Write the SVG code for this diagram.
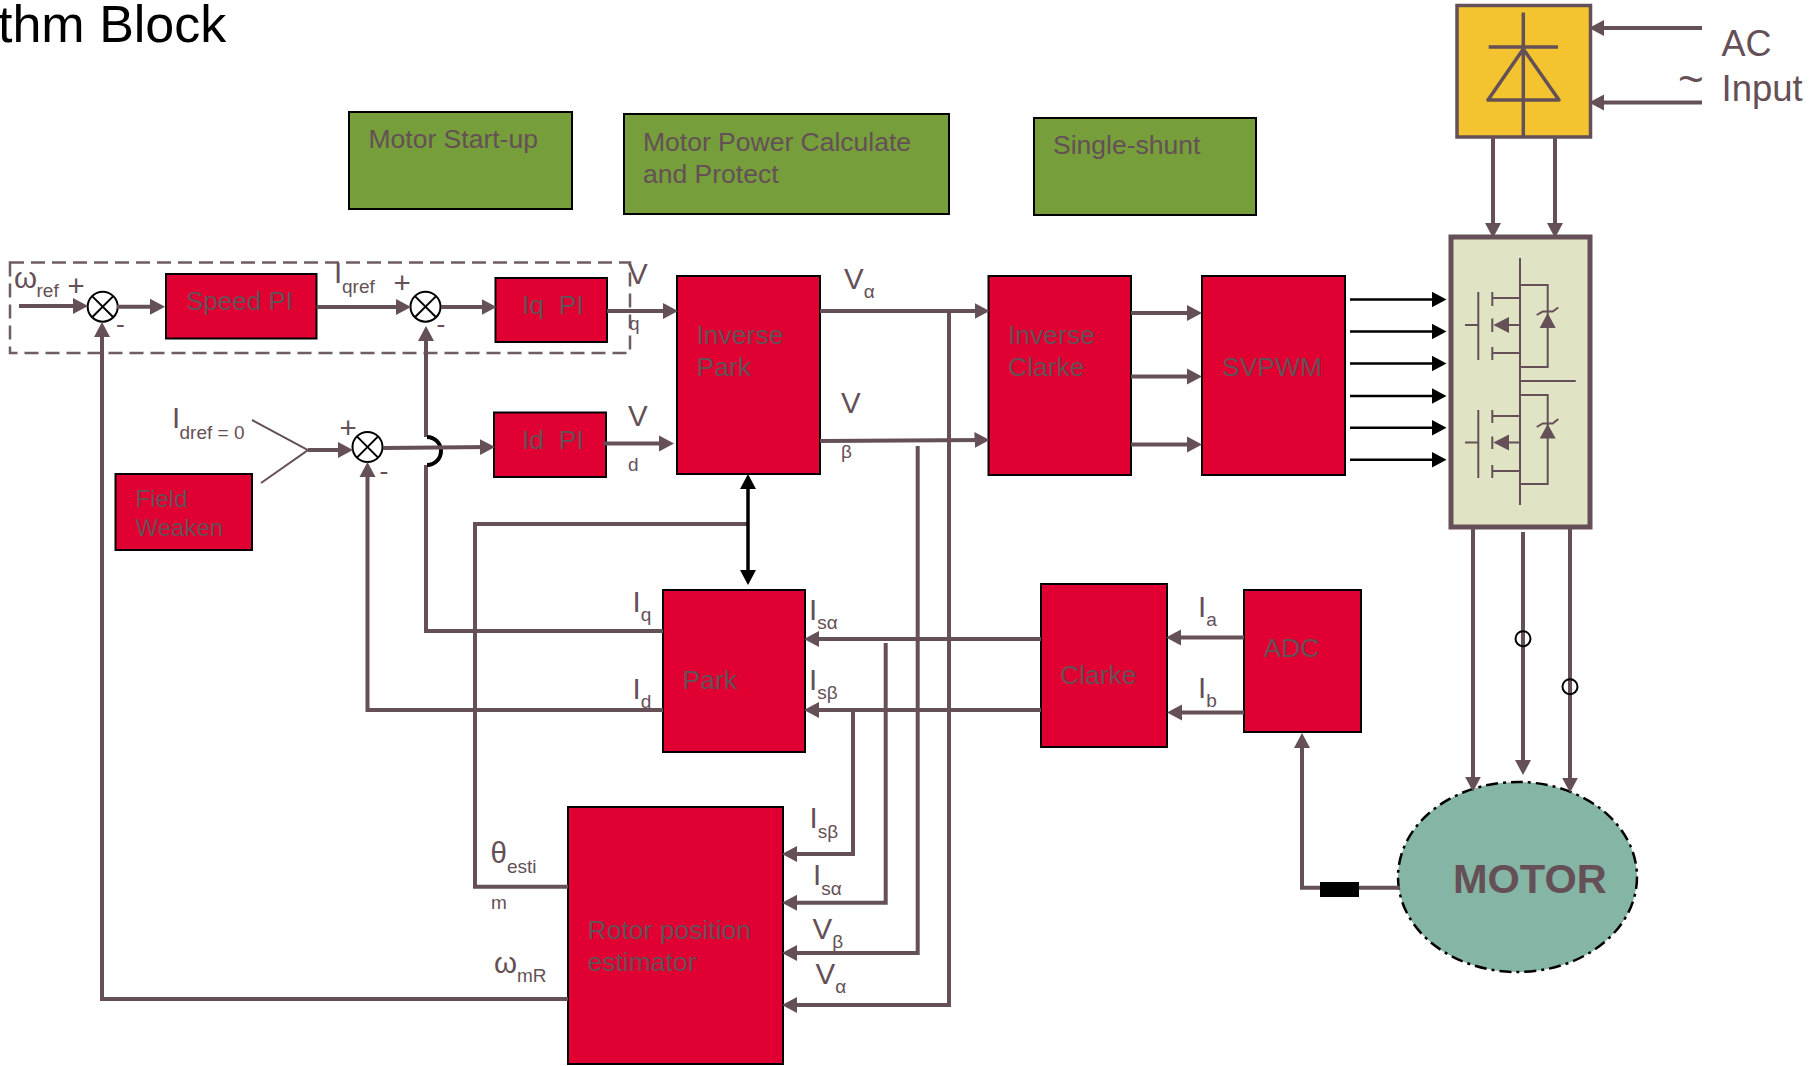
<svg xmlns="http://www.w3.org/2000/svg" width="1811" height="1066" viewBox="0 0 1811 1066">
<style>
text{font-family:"Liberation Sans",Arial,sans-serif;fill:#645056;font-size:26.5px;white-space:pre}
.sub{font-size:19px}
.lab{font-size:29.5px}
.red{fill:#e00032;stroke:#000;stroke-width:2}
.green{fill:#769e3a;stroke:#000;stroke-width:2}
.c{fill:none;stroke:#645056;stroke-width:4}
.a{marker-end:url(#ah)}
.k{fill:none;stroke:#000;stroke-width:2.5;marker-end:url(#bh)}
.t{fill:none;stroke:#645056;stroke-width:2}
.sum{fill:#fff;stroke:#000;stroke-width:2}
.sym{fill:none;stroke:#645056;stroke-width:2}
.symf{fill:#645056;stroke:none}
</style>
<defs>
<marker id="ah" markerUnits="userSpaceOnUse" markerWidth="17" markerHeight="17" refX="10" refY="8.500" orient="auto-start-reverse"><path d="M0 .5L15 8.500L0 16.500z" fill="#645056"/></marker>
<marker id="bh" markerUnits="userSpaceOnUse" markerWidth="17" markerHeight="17" refX="10" refY="8.500" orient="auto-start-reverse"><path d="M0 .5L15 8.500L0 16.500z" fill="#000"/></marker>
<g id="x"><line x1="-10.600" y1="-10.600" x2="10.600" y2="10.600" stroke="#000" stroke-width="2"/><line x1="-10.600" y1="10.600" x2="10.600" y2="-10.600" stroke="#000" stroke-width="2"/></g>
</defs>
<text id="title" x="-2" y="42" style="fill:#000;font-size:52px">thm Block</text>
<rect id="pi-group" x="10" y="262.500" width="620" height="90.500" fill="none" stroke="#6e5d63" stroke-width="2.500" stroke-dasharray="14 7"/>

<g id="motor-startup"><rect class="green" x="349" y="112" width="223" height="97"/><text x="368.500" y="148">Motor Start-up</text></g>
<g id="motor-power"><rect class="green" x="624" y="114" width="325" height="100"/><text x="643" y="151">Motor Power Calculate</text><text x="643" y="183">and Protect</text></g>
<g id="single-shunt"><rect class="green" x="1034" y="118" width="222" height="97"/><text x="1053" y="153.500">Single-shunt</text></g>

<g id="speed-pi"><rect class="red" x="166" y="274" width="150.500" height="64.500"/><text x="186" y="310" style="font-size:26px">Speed PI</text></g>
<g id="iq-pi"><rect class="red" x="495.500" y="278" width="111.500" height="64"/><text x="522" y="314">Iq  PI</text></g>
<g id="id-pi"><rect class="red" x="494" y="412.500" width="112" height="64.500"/><text x="522" y="449">Id  PI</text></g>
<g id="field-weaken"><rect class="red" x="115.500" y="474" width="136.500" height="76"/><text x="135.500" y="507" style="font-size:24px">Field</text><text x="135.500" y="535.500" style="font-size:24px">Weaken</text></g>
<g id="inverse-park"><rect class="red" x="677" y="276" width="143" height="198"/><text x="696.500" y="344">Inverse</text><text x="696.500" y="375.500">Park</text></g>
<g id="inverse-clarke"><rect class="red" x="988.500" y="276" width="142.500" height="199"/><text x="1008" y="344">Inverse</text><text x="1008" y="375.500">Clarke</text></g>
<g id="svpwm"><rect class="red" x="1202" y="276" width="143" height="199"/><text x="1222" y="375.500">SVPWM</text></g>
<g id="park"><rect class="red" x="663" y="590" width="142" height="162"/><text x="682.500" y="689">Park</text></g>
<g id="clarke"><rect class="red" x="1041" y="584" width="126" height="163"/><text x="1060" y="684">Clarke</text></g>
<g id="adc"><rect class="red" x="1244" y="590" width="117" height="142"/><text x="1263.500" y="657">ADC</text></g>
<g id="rotor-estimator"><rect class="red" x="568" y="807" width="215" height="257"/><text x="587.500" y="938.500">Rotor position</text><text x="587.500" y="971">estimator</text></g>

<g id="rectifier"><rect x="1457" y="5.500" width="133.500" height="131.500" fill="#f4c430" stroke="#645056" stroke-width="3.500"/>
<path d="M1523.300 12.500V137M1488.700 47H1558M1523.300 49L1488 100H1559Z" fill="none" stroke="#645056" stroke-width="3.500" stroke-linejoin="round"/></g>

<g id="inverter"><rect x="1451" y="237" width="139" height="290" fill="#e0e4c4" stroke="#645056" stroke-width="5"/>
<path class="sym" d="M1520 258V505M1465 325H1478.300M1478.300 292V360M1492.300 292V306M1492.300 318.500V332M1492.300 347V360M1492.300 298H1520M1492.300 353H1520M1509 325H1520M1520 285H1547.700V367H1520M1536.700 315L1542.700 311.600H1552.700L1558.300 307.500M1520 381H1575.700"/>
<path class="sym" d="M1465 442.500H1478.300M1478.300 410V478M1492.300 410V423M1492.300 436.500V449M1492.300 465V478M1492.300 416H1520M1492.300 471H1520M1509 442.500H1520M1520 395H1547.700V484H1520M1536.700 427L1542.700 423.500H1552.700L1558.300 419"/>
<path class="symf" d="M1493.300 325L1509 317V333ZM1547.700 313L1555.700 328H1539.700ZM1493.300 442.500L1509 434.500V450.500ZM1547.700 424L1555.700 438.500H1539.700Z"/></g>

<g id="motor"><ellipse cx="1517.500" cy="877" rx="119.500" ry="95" fill="#85b5a5" stroke="#000" stroke-width="2.500" stroke-dasharray="12 5 3 5"/><text x="1453" y="893" style="font-size:41.500px;font-weight:bold">MOTOR</text></g>

<g id="sum-speed"><circle class="sum" cx="102.700" cy="306.700" r="15"/><use href="#x" x="102.700" y="306.700"/></g>
<g id="sum-iq"><circle class="sum" cx="425.500" cy="306.700" r="15"/><use href="#x" x="425.500" y="306.700"/></g>
<g id="sum-id"><circle class="sum" cx="367.500" cy="447" r="15"/><use href="#x" x="367.500" y="447"/></g>

<g id="connectors">
<path class="c a" d="M19 306H83"/>
<path class="c a" d="M117 306.700H160"/>
<path class="c a" d="M316.500 307H406"/>
<path class="c a" d="M441 307H491.500"/>
<path class="c a" d="M607 311H673"/>
<path class="c a" d="M568 999H102V327"/>
<path class="c a" d="M663 631H426V465M426 437V331"/>
<path d="M427 437A14 14 0 0 1 427 465" fill="none" stroke="#000" stroke-width="4"/>
<path class="t" d="M252 420L308 450L261 483"/>
<path class="c a" d="M308 450H348"/>
<path class="c a" d="M383 448L490 447"/>
<path class="c a" d="M603.500 443.500H669"/>
<path class="c a" d="M663 710H367.500V467"/>
<path class="c" d="M568 886.700H475V524H748"/>
<path d="M748 479V580" fill="none" stroke="#000" stroke-width="3.500" marker-start="url(#bh)" marker-end="url(#bh)"/>
<path class="c a" d="M820 311H984.500"/>
<path class="c a" d="M820 441L984.500 440"/>
<path class="c a" d="M949 311V1005H787"/>
<path class="c a" d="M917.700 446V953H787"/>
<path class="c a" d="M885.700 643V902.700H787"/>
<path class="c a" d="M853 711V854H787"/>
<path class="c a" d="M1041 639H809"/>
<path class="c a" d="M1041 710H809"/>
<path class="c a" d="M1244 637.500H1171"/>
<path class="c a" d="M1244 712.500H1172"/>
<path class="c a" d="M1131 313H1197"/>
<path class="c a" d="M1131 376.500H1197"/>
<path class="c a" d="M1131 444.500H1197"/>
<path class="k" d="M1350 299.600H1441.500"/>
<path class="k" d="M1350 331.600H1441.500"/>
<path class="k" d="M1350 363.600H1441.500"/>
<path class="k" d="M1350 396H1441.500"/>
<path class="k" d="M1350 427.700H1441.500"/>
<path class="k" d="M1350 459.700H1441.500"/>
<path class="c a" d="M1493 137V233"/>
<path class="c a" d="M1555 137V233"/>
<path class="c a" d="M1702 28H1594"/>
<path class="c a" d="M1702 102.600H1594"/>
<path class="c a" d="M1473 527V786.700"/>
<path class="c a" d="M1523 532V770"/>
<path class="c a" d="M1570 527V787.700"/>
<circle cx="1523" cy="638.700" r="7.500" fill="none" stroke="#000" stroke-width="2"/>
<circle cx="1570" cy="686.700" r="7.500" fill="none" stroke="#000" stroke-width="2"/>
<path class="c a" d="M1400 887.700H1302V738"/>
<rect x="1320" y="882" width="39" height="15" fill="#000"/>
</g>

<g id="labels">
<text class="lab" x="14" y="288">ω<tspan class="sub" x="36.500" dy="9">ref</tspan></text>
<text class="lab" x="76" y="296" text-anchor="middle">+</text>
<text x="120.500" y="333" text-anchor="middle">-</text>
<text class="lab" x="334" y="283">I<tspan class="sub" x="342" dy="10">qref</tspan></text>
<text class="lab" x="402" y="293" text-anchor="middle">+</text>
<text x="441" y="333" text-anchor="middle">-</text>
<text class="lab" x="628" y="284">V</text>
<text class="sub" x="629" y="330">q</text>
<text class="lab" x="628" y="426">V</text>
<text class="sub" x="628" y="470.500">d</text>
<text class="lab" x="172" y="428">I<tspan class="sub" x="179.500" dy="11">dref = 0</tspan></text>
<text class="lab" x="348" y="438" text-anchor="middle">+</text>
<text x="384" y="480" text-anchor="middle">-</text>
<text class="lab" x="844" y="289">V<tspan class="sub" dy="9">α</tspan></text>
<text class="lab" x="841" y="413">V</text>
<text class="sub" x="841" y="458">β</text>
<text class="lab" x="632.500" y="612">I<tspan class="sub" dy="9">q</tspan></text>
<text class="lab" x="632.500" y="699">I<tspan class="sub" dy="9">d</tspan></text>
<text class="lab" x="809" y="620">I<tspan class="sub" dy="9">sα</tspan></text>
<text class="lab" x="809" y="690">I<tspan class="sub" dy="9">sβ</tspan></text>
<text class="lab" x="1198" y="617">I<tspan class="sub" dy="9">a</tspan></text>
<text class="lab" x="1198" y="698">I<tspan class="sub" dy="9">b</tspan></text>
<text class="lab" x="809.500" y="828">I<tspan class="sub" dy="10">sβ</tspan></text>
<text class="lab" x="813" y="885">I<tspan class="sub" dy="10">sα</tspan></text>
<text class="lab" x="812.500" y="939">V<tspan class="sub" dy="9">β</tspan></text>
<text class="lab" x="815.500" y="984">V<tspan class="sub" dy="9">α</tspan></text>
<text class="lab" x="490.500" y="863">θ<tspan class="sub" dy="10">esti</tspan></text>
<text class="sub" x="491" y="909">m</text>
<text class="lab" x="494" y="972.500">ω<tspan class="sub" dy="9">mR</tspan></text>
<text x="1721.500" y="56" style="font-size:36px">AC</text>
<text x="1721.500" y="101" style="font-size:36.500px">Input</text>
<text x="1678" y="94" style="font-size:44px">~</text>
</g>
</svg>
